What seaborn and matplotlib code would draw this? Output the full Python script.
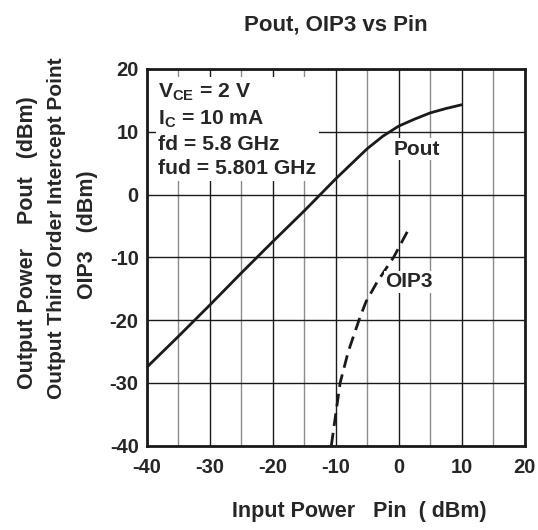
import matplotlib
matplotlib.use("Agg")
import matplotlib.pyplot as plt
import seaborn as sns
import pandas as pd

# Output power vs input power
pin_pout = [-40, -35, -30, -25, -20, -15, -10, -7.5, -5, -2.5, 0, 2.5, 5, 7.5, 10]
pout = [-27.5, -22.6, -17.6, -12.5, -7.5, -2.6, 2.5, 4.9, 7.3, 9.3, 10.9, 12.0, 13.0, 13.7, 14.3]

# Output third order intercept point vs input power
pin_oip3 = [-10.7, -9.3, -8.0, -6.3, -5.2, -3.4, -0.8, 1.6]
oip3 = [-40.0, -30.0, -25.0, -20.0, -17.1, -13.9, -10.0, -5.5]

x_ticks = [-40, -30, -20, -10, 0, 10, 20]
y_ticks = [-40, -30, -20, -10, 0, 10, 20]
x_minor = [-35, -25, -15, -5, 5, 15]

conditions = ["V$_{\\mathregular{CE}}$ = 2 V", "I$_{\\mathregular{C}}$ = 10 mA",
              "fd = 5.8 GHz", "fud = 5.801 GHz"]

sns.set_style("white")
plt.rcParams["font.family"] = ["Liberation Sans", "DejaVu Sans"]
plt.rcParams["font.weight"] = "bold"
plt.rcParams["axes.unicode_minus"] = False
plt.rcParams["mathtext.fontset"] = "custom"
plt.rcParams["mathtext.rm"] = "Liberation Sans:bold"

fig = plt.figure(figsize=(5.38, 5.30), dpi=100)
ax = fig.add_axes([147 / 538, 1 - 445.5 / 530, 377.5 / 538, 376.5 / 530])

df_pout = pd.DataFrame({"pin": pin_pout, "val": pout})
df_oip3 = pd.DataFrame({"pin": pin_oip3, "val": oip3})

sns.lineplot(data=df_pout, x="pin", y="val", ax=ax, color="#1a1a1a",
             linewidth=2.0, zorder=5)
sns.lineplot(data=df_oip3, x="pin", y="val", ax=ax, color="#1a1a1a",
             linewidth=2.0, linestyle=(0, (4.6, 2.5)), zorder=5)

ax.set_xlim(-40, 20)
ax.set_ylim(-40, 20)
ax.set_xticks(x_ticks)
ax.set_yticks(y_ticks)
ax.set_xticks(x_minor, minor=True)
ax.grid(True, which="major", color="#1a1a1a", linewidth=1.0, zorder=1)
ax.grid(True, which="minor", axis="x", color="#8c8c8c", linewidth=1.0, zorder=1)
ax.set_axisbelow(True)
ax.tick_params(axis="both", which="both", length=0, labelsize=14.5)
ax.tick_params(axis="x", pad=9)
ax.tick_params(axis="y", pad=6)
for s in ax.spines.values():
    s.set_linewidth(2.0)
    s.set_color("#1a1a1a")
    s.set_zorder(6)

ax.set_xlabel("")
ax.set_ylabel("")

ax.text(-38.2, 18.0, "\n".join(conditions), fontsize=15.2, fontweight="bold",
        va="top", ha="left", linespacing=1.33, zorder=7,
        bbox=dict(facecolor="white", edgecolor="none", pad=2))
ax.text(2.9, 7.2, "Pout", fontsize=15, fontweight="bold", ha="center", va="center",
        zorder=7, bbox=dict(facecolor="white", edgecolor="none", pad=1))
ax.text(1.7, -13.9, "OIP3", fontsize=15, fontweight="bold", ha="center", va="center",
        zorder=7, bbox=dict(facecolor="white", edgecolor="none", pad=1))

fig.text(336 / 538, 1 - 25 / 530, "Pout, OIP3 vs Pin", fontsize=16,
         fontweight="bold", ha="center", va="center")
fig.text(359 / 538, 1 - 512 / 530, "Input Power   Pin  ( dBm)", fontsize=15.5,
         fontweight="bold", ha="center", va="center")
fig.text(28 / 538, 1 - 243 / 530, "Output Power    Pout   (dBm)", fontsize=15.5,
         fontweight="bold", ha="center", va="center", rotation=90)
fig.text(57 / 538, 1 - 228 / 530, "Output Third Order Intercept Point", fontsize=15,
         fontweight="bold", ha="center", va="center", rotation=90)
fig.text(87 / 538, 1 - 235 / 530, "OIP3   (dBm)", fontsize=15.5,
         fontweight="bold", ha="center", va="center", rotation=90)

fig.savefig("out.png", dpi=100, facecolor="white")
